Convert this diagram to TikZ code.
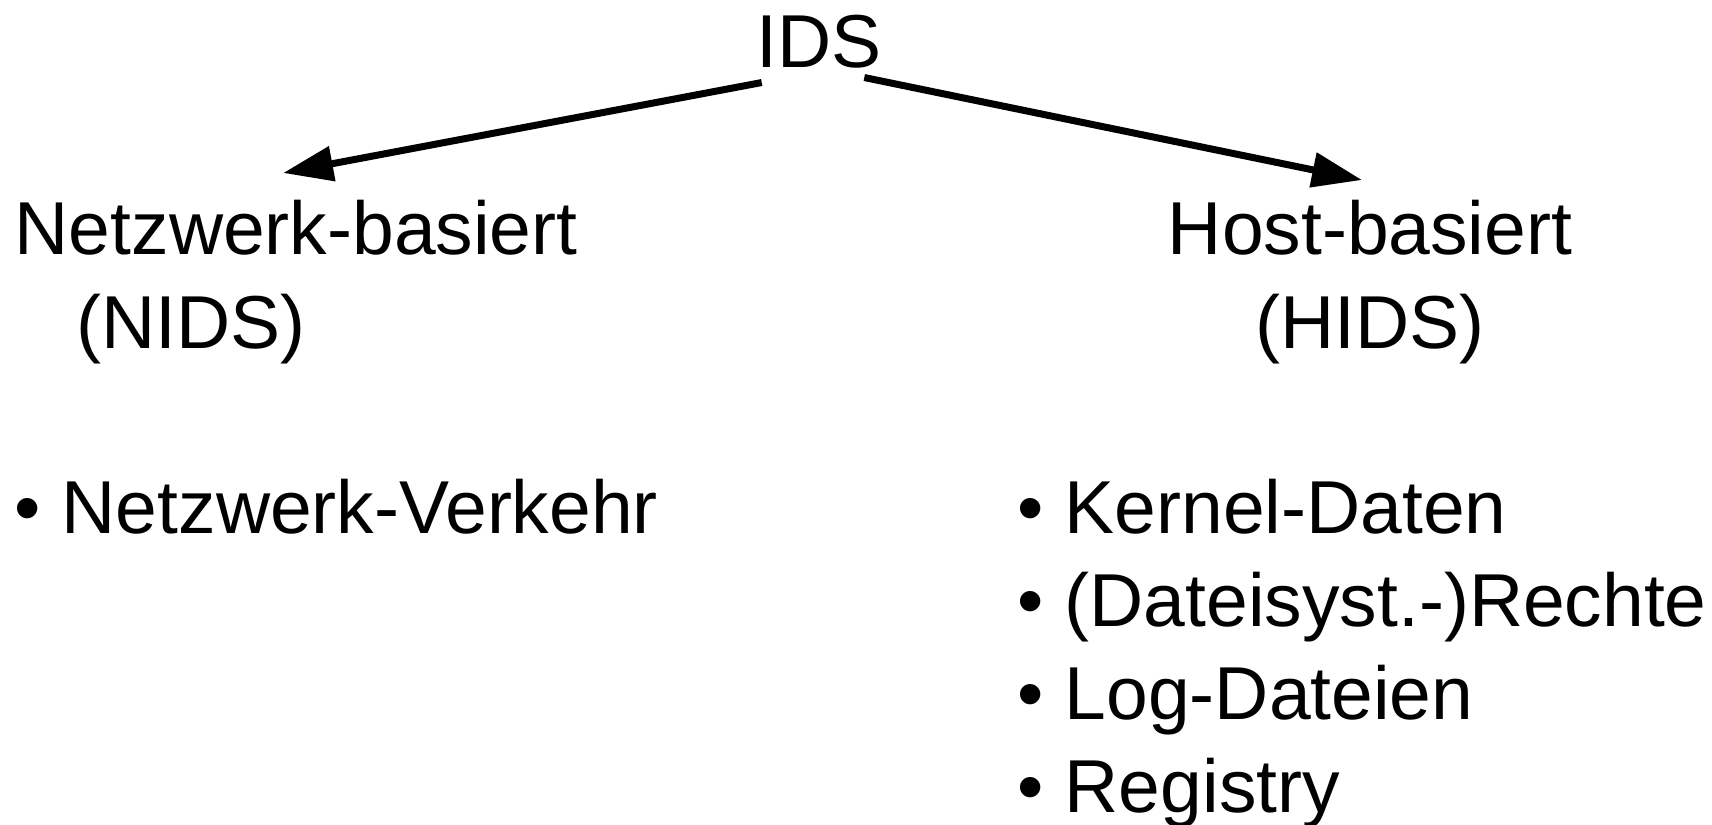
\documentclass[tikz,border=0pt]{standalone}
\usepackage{fontspec}
\setmainfont{Liberation Sans}
\usepackage{tikz}
\usetikzlibrary{arrows.meta}

\newcommand{\headfont}{\fontsize{18.75}{23.5}\selectfont}
\newcommand{\listfont}{\fontsize{18.75}{23.25}\selectfont}

\begin{document}
\begin{tikzpicture}[
  x=0.25pt, y=-0.25pt,
  topnode/.style={inner sep=0pt,font=\headfont},
  branch/.style={inner sep=0pt,font=\headfont},
  itemlist/.style={inner sep=0pt,font=\listfont,align=left,anchor=north west},
  link/.style={-{Triangle[length=12.5pt,width=8.5pt]},line width=1.75pt},
]
\useasboundingbox (0,0) rectangle (1712,824);

\node[topnode,anchor=base] (ids) at (819,67) {IDS};
\node[branch,align=left,anchor=north west] (nids) at (14,199)
  {Netzwerk-basiert\\\hspace*{15.5pt}(NIDS)};
\node[branch,align=center,anchor=north] (hids) at (1370,199)
  {Host-basiert\\(HIDS)};

% what each kind of IDS looks at
\node[itemlist] (nlist) at (14,478) {• Netzwerk-Verkehr};
\node[itemlist] (hlist) at (1017,478)
  {• Kernel-Daten\\• (Dateisyst.-)Rechte\\• Log-Dateien\\• Registry};

\draw[link] ([xshift=1.5pt,yshift=-3.5pt]ids.south west) -- ([xshift=-3.25pt,yshift=6.5pt]nids.north);
\draw[link] ([xshift=-4.5pt,yshift=-2.25pt]ids.south east) -- ([xshift=-2pt,yshift=4.75pt]hids.north);
\end{tikzpicture}
\end{document}
